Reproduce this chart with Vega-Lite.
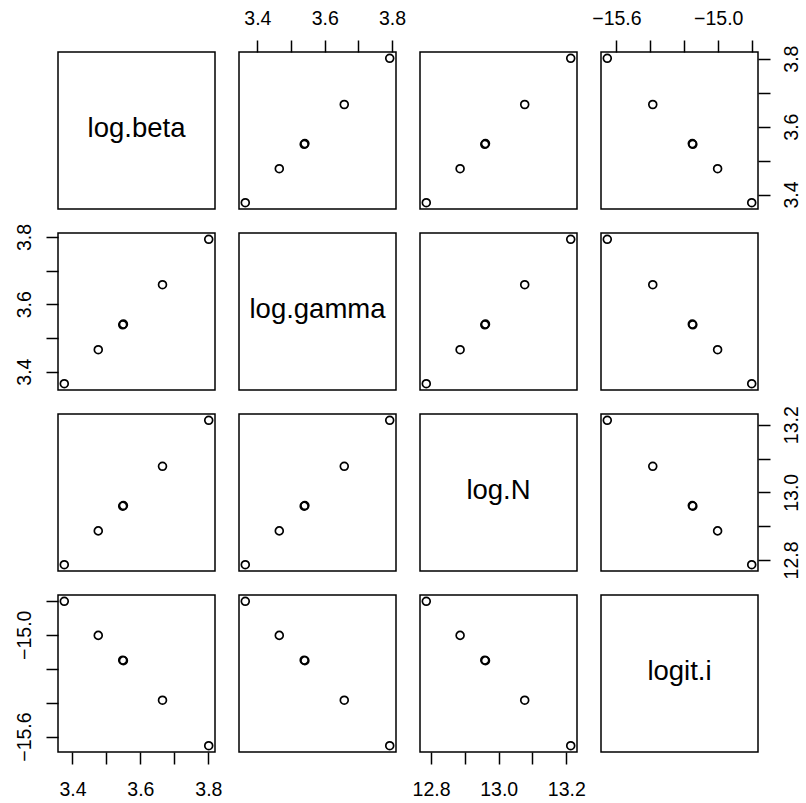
{
  "$schema": "https://vega.github.io/schema/vega-lite/v6.json",
  "background": "white",
  "padding": {"left": 13, "top": 7, "right": 5, "bottom": 5},
  "datasets": {
    "draws": [
      {"logBeta": 3.376, "logGamma": 3.364, "logN": 12.786, "logitI": -14.803},
      {"logBeta": 3.476, "logGamma": 3.465, "logN": 12.886, "logitI": -15.004},
      {"logBeta": 3.548, "logGamma": 3.539, "logN": 12.959, "logitI": -15.150},
      {"logBeta": 3.550, "logGamma": 3.541, "logN": 12.961, "logitI": -15.153},
      {"logBeta": 3.665, "logGamma": 3.658, "logN": 13.077, "logitI": -15.386},
      {"logBeta": 3.801, "logGamma": 3.793, "logN": 13.213, "logitI": -15.654}
    ],
    "variables": [
      {"variable": "log.beta", "cx": 0.5, "cy": 0.5},
      {"variable": "log.gamma", "cx": 0.5, "cy": 0.5},
      {"variable": "log.N", "cx": 0.5, "cy": 0.5},
      {"variable": "logit.i", "cx": 0.5, "cy": 0.5}
    ]
  },
  "config": {
    "font": "Liberation Sans",
    "view": {"stroke": "black", "strokeWidth": 1.5, "fill": "white"},
    "axis": {
      "domain": false,
      "grid": false,
      "ticks": true,
      "tickSize": 12,
      "tickWidth": 1.5,
      "tickColor": "black",
      "labelFont": "Liberation Sans",
      "labelFontSize": 19.5,
      "labelColor": "black",
      "labelFlush": false,
      "labelOverlap": false,
      "format": ".1f",
      "title": null
    },
    "point": {"shape": "circle", "filled": false, "stroke": "black", "strokeWidth": 1.7, "size": 62, "opacity": 1},
    "text": {"font": "Liberation Sans", "fontSize": 27.5, "color": "black", "baseline": "alphabetic", "dy": 6}
  },
  "columns": 4,
  "spacing": 24,
  "bounds": "flush",
  "concat": [
    {
      "width": 157, "height": 157,
      "view": {"stroke": "black", "strokeWidth": 1.5},
      "data": {"name": "variables"},
      "transform": [{"filter": "datum.variable == 'log.beta'"}],
      "mark": {"type": "text"},
      "encoding": {
        "x": {"field": "cx", "type": "quantitative", "scale": {"domain": [0, 1]}, "axis": null},
        "y": {"field": "cy", "type": "quantitative", "scale": {"domain": [0, 1]}, "axis": null},
        "text": {"field": "variable"}
      }
    },
    {
      "width": 157, "height": 157,
      "data": {"name": "draws"},
      "mark": {"type": "point"},
      "encoding": {
        "x": {"field": "logGamma", "type": "quantitative", "scale": {"zero": false, "nice": false, "padding": 6.28},
              "axis": {"orient": "top", "title": null, "values": [3.4, 3.5, 3.6, 3.7, 3.8], "labelExpr": "datum.value == 3.5 || datum.value == 3.7 ? '' : datum.label", "labelAlign": "center", "labelBaseline": "alphabetic", "labelPadding": 15.7}},
        "y": {"field": "logBeta", "type": "quantitative", "scale": {"zero": false, "nice": false, "padding": 6.28}, "axis": null}
      }
    },
    {
      "width": 157, "height": 157,
      "data": {"name": "draws"},
      "mark": {"type": "point"},
      "encoding": {
        "x": {"field": "logN", "type": "quantitative", "scale": {"zero": false, "nice": false, "padding": 6.28}, "axis": null},
        "y": {"field": "logBeta", "type": "quantitative", "scale": {"zero": false, "nice": false, "padding": 6.28}, "axis": null}
      }
    },
    {
      "width": 157, "height": 157,
      "data": {"name": "draws"},
      "mark": {"type": "point"},
      "encoding": {
        "x": {"field": "logitI", "type": "quantitative", "scale": {"zero": false, "nice": false, "padding": 6.28},
              "axis": {"orient": "top", "title": null, "values": [-15.6, -15.4, -15.2, -15.0, -14.8], "labelExpr": "datum.value == -15.6 || datum.value == -15.0 ? datum.label : ''", "labelAlign": "center", "labelBaseline": "alphabetic", "labelPadding": 15.7}},
        "y": {"field": "logBeta", "type": "quantitative", "scale": {"zero": false, "nice": false, "padding": 6.28},
              "axis": {"orient": "right", "title": null, "values": [3.4, 3.5, 3.6, 3.7, 3.8], "labelExpr": "datum.value == 3.5 || datum.value == 3.7 ? '' : datum.label", "labelAngle": -90, "labelAlign": "center", "labelBaseline": "top", "labelPadding": 12}}
      }
    },
    {
      "width": 157, "height": 157,
      "data": {"name": "draws"},
      "mark": {"type": "point"},
      "encoding": {
        "x": {"field": "logBeta", "type": "quantitative", "scale": {"zero": false, "nice": false, "padding": 6.28}, "axis": null},
        "y": {"field": "logGamma", "type": "quantitative", "scale": {"zero": false, "nice": false, "padding": 6.28},
              "axis": {"orient": "left", "title": null, "values": [3.4, 3.5, 3.6, 3.7, 3.8], "labelExpr": "datum.value == 3.5 || datum.value == 3.7 ? '' : datum.label", "labelAngle": -90, "labelAlign": "center", "labelBaseline": "alphabetic", "labelPadding": 15.7}}
      }
    },
    {
      "width": 157, "height": 157,
      "view": {"stroke": "black", "strokeWidth": 1.5},
      "data": {"name": "variables"},
      "transform": [{"filter": "datum.variable == 'log.gamma'"}],
      "mark": {"type": "text"},
      "encoding": {
        "x": {"field": "cx", "type": "quantitative", "scale": {"domain": [0, 1]}, "axis": null},
        "y": {"field": "cy", "type": "quantitative", "scale": {"domain": [0, 1]}, "axis": null},
        "text": {"field": "variable"}
      }
    },
    {
      "width": 157, "height": 157,
      "data": {"name": "draws"},
      "mark": {"type": "point"},
      "encoding": {
        "x": {"field": "logN", "type": "quantitative", "scale": {"zero": false, "nice": false, "padding": 6.28}, "axis": null},
        "y": {"field": "logGamma", "type": "quantitative", "scale": {"zero": false, "nice": false, "padding": 6.28}, "axis": null}
      }
    },
    {
      "width": 157, "height": 157,
      "data": {"name": "draws"},
      "mark": {"type": "point"},
      "encoding": {
        "x": {"field": "logitI", "type": "quantitative", "scale": {"zero": false, "nice": false, "padding": 6.28}, "axis": null},
        "y": {"field": "logGamma", "type": "quantitative", "scale": {"zero": false, "nice": false, "padding": 6.28}, "axis": null}
      }
    },
    {
      "width": 157, "height": 157,
      "data": {"name": "draws"},
      "mark": {"type": "point"},
      "encoding": {
        "x": {"field": "logBeta", "type": "quantitative", "scale": {"zero": false, "nice": false, "padding": 6.28}, "axis": null},
        "y": {"field": "logN", "type": "quantitative", "scale": {"zero": false, "nice": false, "padding": 6.28}, "axis": null}
      }
    },
    {
      "width": 157, "height": 157,
      "data": {"name": "draws"},
      "mark": {"type": "point"},
      "encoding": {
        "x": {"field": "logGamma", "type": "quantitative", "scale": {"zero": false, "nice": false, "padding": 6.28}, "axis": null},
        "y": {"field": "logN", "type": "quantitative", "scale": {"zero": false, "nice": false, "padding": 6.28}, "axis": null}
      }
    },
    {
      "width": 157, "height": 157,
      "view": {"stroke": "black", "strokeWidth": 1.5},
      "data": {"name": "variables"},
      "transform": [{"filter": "datum.variable == 'log.N'"}],
      "mark": {"type": "text"},
      "encoding": {
        "x": {"field": "cx", "type": "quantitative", "scale": {"domain": [0, 1]}, "axis": null},
        "y": {"field": "cy", "type": "quantitative", "scale": {"domain": [0, 1]}, "axis": null},
        "text": {"field": "variable"}
      }
    },
    {
      "width": 157, "height": 157,
      "data": {"name": "draws"},
      "mark": {"type": "point"},
      "encoding": {
        "x": {"field": "logitI", "type": "quantitative", "scale": {"zero": false, "nice": false, "padding": 6.28}, "axis": null},
        "y": {"field": "logN", "type": "quantitative", "scale": {"zero": false, "nice": false, "padding": 6.28},
              "axis": {"orient": "right", "title": null, "values": [12.8, 12.9, 13.0, 13.1, 13.2], "labelExpr": "datum.value == 12.9 || datum.value == 13.1 ? '' : datum.label", "labelAngle": -90, "labelAlign": "center", "labelBaseline": "top", "labelPadding": 12}}
      }
    },
    {
      "width": 157, "height": 157,
      "data": {"name": "draws"},
      "mark": {"type": "point"},
      "encoding": {
        "x": {"field": "logBeta", "type": "quantitative", "scale": {"zero": false, "nice": false, "padding": 6.28},
              "axis": {"orient": "bottom", "title": null, "values": [3.4, 3.5, 3.6, 3.7, 3.8], "labelExpr": "datum.value == 3.5 || datum.value == 3.7 ? '' : datum.label", "labelAlign": "center", "labelBaseline": "top", "labelPadding": 16.3}},
        "y": {"field": "logitI", "type": "quantitative", "scale": {"zero": false, "nice": false, "padding": 6.28},
              "axis": {"orient": "left", "title": null, "values": [-15.6, -15.4, -15.2, -15.0, -14.8], "labelExpr": "datum.value == -15.6 || datum.value == -15.0 ? datum.label : ''", "labelAngle": -90, "labelAlign": "center", "labelBaseline": "alphabetic", "labelPadding": 15.7}}
      }
    },
    {
      "width": 157, "height": 157,
      "data": {"name": "draws"},
      "mark": {"type": "point"},
      "encoding": {
        "x": {"field": "logGamma", "type": "quantitative", "scale": {"zero": false, "nice": false, "padding": 6.28}, "axis": null},
        "y": {"field": "logitI", "type": "quantitative", "scale": {"zero": false, "nice": false, "padding": 6.28}, "axis": null}
      }
    },
    {
      "width": 157, "height": 157,
      "data": {"name": "draws"},
      "mark": {"type": "point"},
      "encoding": {
        "x": {"field": "logN", "type": "quantitative", "scale": {"zero": false, "nice": false, "padding": 6.28},
              "axis": {"orient": "bottom", "title": null, "values": [12.8, 12.9, 13.0, 13.1, 13.2], "labelExpr": "datum.value == 12.9 || datum.value == 13.1 ? '' : datum.label", "labelAlign": "center", "labelBaseline": "top", "labelPadding": 16.3}},
        "y": {"field": "logitI", "type": "quantitative", "scale": {"zero": false, "nice": false, "padding": 6.28}, "axis": null}
      }
    },
    {
      "width": 157, "height": 157,
      "view": {"stroke": "black", "strokeWidth": 1.5},
      "data": {"name": "variables"},
      "transform": [{"filter": "datum.variable == 'logit.i'"}],
      "mark": {"type": "text"},
      "encoding": {
        "x": {"field": "cx", "type": "quantitative", "scale": {"domain": [0, 1]}, "axis": null},
        "y": {"field": "cy", "type": "quantitative", "scale": {"domain": [0, 1]}, "axis": null},
        "text": {"field": "variable"}
      }
    }
  ]
}
